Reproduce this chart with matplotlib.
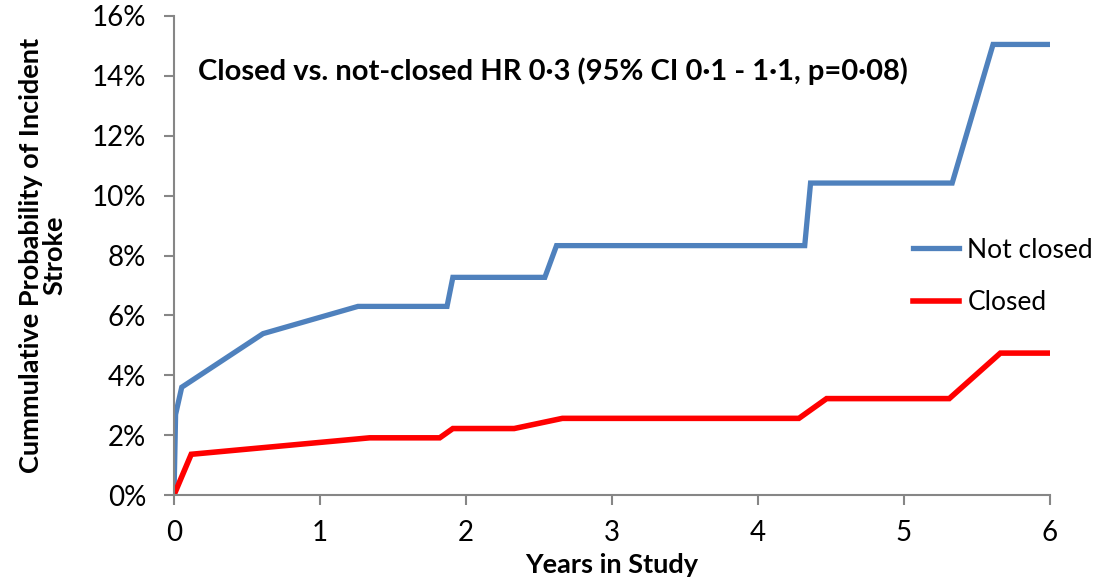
import matplotlib
matplotlib.use("Agg")
import matplotlib.pyplot as plt
from matplotlib.ticker import FuncFormatter

plt.rcParams["font.family"] = ["Lato", "DejaVu Sans"]

# Kaplan-Meier style cumulative incidence
not_closed_years = [0, 0.011, 0.053, 0.61, 1.26, 1.87, 1.91, 2.54, 2.62, 4.32, 4.36, 5.33, 5.61, 6.0]
not_closed_pct = [0, 2.69, 3.6, 5.39, 6.3, 6.3, 7.27, 7.27, 8.33, 8.33, 10.42, 10.42, 15.05, 15.05]

closed_years = [0, 0.118, 1.34, 1.82, 1.91, 2.33, 2.66, 4.28, 4.47, 5.31, 5.66, 6.0]
closed_pct = [0, 1.36, 1.91, 1.91, 2.22, 2.22, 2.56, 2.56, 3.22, 3.22, 4.74, 4.74]

x_ticks = [0, 1, 2, 3, 4, 5, 6]
y_ticks = [0, 2, 4, 6, 8, 10, 12, 14, 16]

blue = "#4F81BD"
red = "#FF0000"
grey = "#868686"

fig = plt.figure(figsize=(10.97, 5.81), dpi=100)
ax = fig.add_axes([174 / 1097, 1 - 495 / 581, (1050 - 174) / 1097, (495 - 16) / 581])

ax.plot(not_closed_years, not_closed_pct, color=blue, lw=3.8, solid_joinstyle="miter", label="Not closed")
ax.plot(closed_years, closed_pct, color=red, lw=4.0, solid_joinstyle="miter", label="Closed")

ax.set_xlim(0, 6)
ax.set_ylim(0, 16)
ax.set_xticks(x_ticks)
ax.set_yticks(y_ticks)
ax.yaxis.set_major_formatter(FuncFormatter(lambda v, p: f"{v:.0f}%"))

for side in ["top", "right"]:
    ax.spines[side].set_visible(False)
for side in ["left", "bottom"]:
    ax.spines[side].set_color(grey)
    ax.spines[side].set_linewidth(1.5)
ax.tick_params(axis="both", direction="out", length=7, width=1.5, color=grey,
               labelsize=20, labelcolor="black")
ax.tick_params(axis="x", pad=11)
ax.tick_params(axis="y", pad=13)

ax.set_xlabel("Years in Study", fontsize=19.5, fontweight="bold", labelpad=5)
ax.set_ylabel("Cummulative Probability of Incident\nStroke", fontsize=19.5,
              fontweight="bold", labelpad=18, linespacing=1.0)

ax.text(0.027, 0.885, "Closed vs. not-closed HR 0\u00b73 (95% CI 0\u00b71 - 1\u00b71, p=0\u00b708)",
        transform=ax.transAxes, fontsize=21, fontweight="bold", va="center", ha="left")

leg = ax.legend(loc="center left", bbox_to_anchor=(0.831, 0.456), frameon=False,
                borderaxespad=0, fontsize=19, handlelength=1.78, handletextpad=0.3,
                labelspacing=1.05)

fig.savefig("out.png", dpi=100, facecolor="white")
